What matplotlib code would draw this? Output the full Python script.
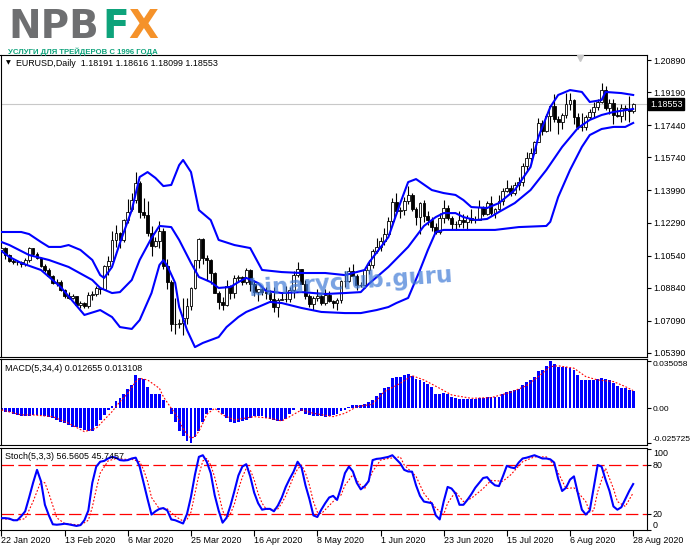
import matplotlib.pyplot as plt
import numpy as np
from matplotlib import font_manager

W, H = 691, 549

# ---------------- data ----------------
opens = [
    1.1083, 1.1093, 1.1056, 1.1025, 1.1020, 1.1019, 1.1009, 1.1031, 1.1093, 1.1060,
    1.1044, 1.1000, 1.0980, 1.0945, 1.0910, 1.0916, 1.0872, 1.0840, 1.0830, 1.0838,
    1.0792, 1.0805, 1.0785, 1.0847, 1.0852, 1.0881, 1.0880, 1.0998, 1.1027, 1.1137,
    1.1174, 1.1136, 1.1240, 1.1300, 1.1350, 1.1440, 1.1285, 1.1267, 1.1175, 1.1106,
    1.1130, 1.1183, 1.0997, 1.0914, 1.0690, 1.0692, 1.0700, 1.0722, 1.0790, 1.0885,
    1.1030, 1.1140, 1.1043, 1.1029, 1.0962, 1.0856, 1.0810, 1.0791, 1.0891, 1.0857,
    1.0935, 1.0940, 1.0915, 1.0978, 1.0905, 1.0863, 1.0877, 1.0863, 1.0855, 1.0823,
    1.0782, 1.0820, 1.0825, 1.0822, 1.0874, 1.0954, 1.0982, 1.0906, 1.0838, 1.0796,
    1.0830, 1.0840, 1.0805, 1.0848, 1.0815, 1.0802, 1.0819, 1.0919, 1.0922, 1.0975,
    1.0948, 1.0900, 1.0898, 1.0980, 1.1006, 1.1077, 1.1100, 1.1134, 1.1171, 1.1236,
    1.1339, 1.1288, 1.1294, 1.1341, 1.1374, 1.1300, 1.1256, 1.1332, 1.1263, 1.1243,
    1.1204, 1.1178, 1.1255, 1.1307, 1.1251, 1.1220, 1.1219, 1.1243, 1.1234, 1.1251,
    1.1240, 1.1245, 1.1310, 1.1275, 1.1331, 1.1282, 1.1300, 1.1343, 1.1398, 1.1411,
    1.1383, 1.1427, 1.1444, 1.1527, 1.1569, 1.1596, 1.1656, 1.1754, 1.1716, 1.1791,
    1.1846, 1.1778, 1.1761, 1.1800, 1.1856, 1.1876, 1.1787, 1.1736, 1.1737, 1.1785,
    1.1813, 1.1842, 1.1869, 1.1930, 1.1835, 1.1862, 1.1798, 1.1794, 1.1834, 1.1830,
    1.18191]
highs = [
    1.1100, 1.1097, 1.1064, 1.1036, 1.1027, 1.1024, 1.1039, 1.1097, 1.1096, 1.1073,
    1.1049, 1.1009, 1.0986, 1.0954, 1.0931, 1.0924, 1.0878, 1.0863, 1.0851, 1.0841,
    1.0814, 1.0811, 1.0863, 1.0869, 1.0892, 1.0890, 1.1005, 1.1054, 1.1186, 1.1214,
    1.1179, 1.1246, 1.1356, 1.1385, 1.1495, 1.1450, 1.1357, 1.1343, 1.1209, 1.1150,
    1.1237, 1.1200, 1.1035, 1.0926, 1.0832, 1.0720, 1.0828, 1.0828, 1.0887, 1.1033,
    1.1147, 1.1145, 1.1056, 1.1035, 1.0966, 1.0865, 1.0834, 1.0926, 1.0896, 1.0952,
    1.0953, 1.0948, 1.0990, 1.0983, 1.0925, 1.0880, 1.0890, 1.0889, 1.0874, 1.0888,
    1.0831, 1.0860, 1.0891, 1.0888, 1.0972, 1.1019, 1.0984, 1.0927, 1.0849, 1.0841,
    1.0876, 1.0850, 1.0876, 1.0868, 1.0817, 1.0830, 1.0927, 1.0975, 1.0995, 1.1008,
    1.0955, 1.0916, 1.0995, 1.1030, 1.1090, 1.1147, 1.1154, 1.1198, 1.1257, 1.1361,
    1.1384, 1.1312, 1.1362, 1.1422, 1.1387, 1.1310, 1.1339, 1.1348, 1.1290, 1.1258,
    1.1226, 1.1277, 1.1348, 1.1323, 1.1263, 1.1238, 1.1288, 1.1274, 1.1270, 1.1302,
    1.1262, 1.1346, 1.1317, 1.1343, 1.1371, 1.1305, 1.1375, 1.1413, 1.1452, 1.1430,
    1.1445, 1.1468, 1.1545, 1.1601, 1.1626, 1.1660, 1.1781, 1.1770, 1.1805, 1.1850,
    1.1908, 1.1795, 1.1806, 1.1916, 1.1916, 1.1882, 1.1806, 1.1806, 1.1798, 1.1832,
    1.1865, 1.1883, 1.1966, 1.1951, 1.1884, 1.1882, 1.1840, 1.1857, 1.1850, 1.1900,
    1.18616]
lows = [
    1.1077, 1.1036, 1.1019, 1.1010, 1.1005, 1.0992, 1.0999, 1.1020, 1.1051, 1.1037,
    1.0992, 1.0966, 1.0942, 1.0906, 1.0891, 1.0866, 1.0829, 1.0827, 1.0823, 1.0785,
    1.0779, 1.0778, 1.0779, 1.0821, 1.0838, 1.0850, 1.0876, 1.0951, 1.1023, 1.1097,
    1.1095, 1.1125, 1.1227, 1.1290, 1.1330, 1.1252, 1.1254, 1.1160, 1.1053, 1.1100,
    1.1094, 1.0983, 1.0878, 1.0654, 1.0637, 1.0670, 1.0636, 1.0690, 1.0766, 1.0878,
    1.0986, 1.1012, 1.0927, 1.0905, 1.0855, 1.0771, 1.0768, 1.0787, 1.0827, 1.0832,
    1.0920, 1.0896, 1.0905, 1.0865, 1.0840, 1.0812, 1.0846, 1.0827, 1.0812, 1.0757,
    1.0727, 1.0817, 1.0810, 1.0810, 1.0829, 1.0940, 1.0904, 1.0826, 1.0782, 1.0767,
    1.0814, 1.0792, 1.0795, 1.0806, 1.0775, 1.0766, 1.0805, 1.0888, 1.0915, 1.0945,
    1.0871, 1.0886, 1.0885, 1.0955, 1.0990, 1.1066, 1.1076, 1.1108, 1.1165, 1.1212,
    1.1272, 1.1251, 1.1270, 1.1327, 1.1290, 1.1218, 1.1167, 1.1230, 1.1218, 1.1185,
    1.1168, 1.1167, 1.1228, 1.1245, 1.1195, 1.1190, 1.1205, 1.1199, 1.1191, 1.1227,
    1.1226, 1.1240, 1.1261, 1.1269, 1.1268, 1.1254, 1.1296, 1.1320, 1.1392, 1.1371,
    1.1375, 1.1400, 1.1421, 1.1505, 1.1539, 1.1592, 1.1653, 1.1690, 1.1710, 1.1713,
    1.1762, 1.1696, 1.1723, 1.1780, 1.1822, 1.1753, 1.1722, 1.1711, 1.1718, 1.1776,
    1.1786, 1.1826, 1.1860, 1.1826, 1.1802, 1.1753, 1.1785, 1.1760, 1.1772, 1.1762,
    1.18099]
closes = [
    1.1093, 1.1056, 1.1025, 1.1020, 1.1019, 1.1009, 1.1031, 1.1093, 1.1060, 1.1044,
    1.1000, 1.0980, 1.0945, 1.0910, 1.0916, 1.0872, 1.0840, 1.0830, 1.0838, 1.0792,
    1.0805, 1.0785, 1.0847, 1.0852, 1.0881, 1.0880, 1.0998, 1.1027, 1.1137, 1.1174,
    1.1136, 1.1240, 1.1284, 1.1350, 1.1440, 1.1285, 1.1267, 1.1175, 1.1106, 1.1130,
    1.1183, 1.0997, 1.0914, 1.0690, 1.0692, 1.0700, 1.0722, 1.0790, 1.0885, 1.1030,
    1.1140, 1.1043, 1.1029, 1.0962, 1.0856, 1.0810, 1.0791, 1.0891, 1.0857, 1.0935,
    1.0940, 1.0915, 1.0978, 1.0905, 1.0863, 1.0877, 1.0863, 1.0855, 1.0823, 1.0782,
    1.0820, 1.0825, 1.0822, 1.0874, 1.0954, 1.0982, 1.0906, 1.0838, 1.0796, 1.0830,
    1.0840, 1.0805, 1.0848, 1.0815, 1.0802, 1.0819, 1.0919, 1.0922, 1.0975, 1.0948,
    1.0900, 1.0898, 1.0980, 1.1006, 1.1077, 1.1100, 1.1134, 1.1171, 1.1236, 1.1339,
    1.1288, 1.1294, 1.1341, 1.1374, 1.1300, 1.1256, 1.1332, 1.1263, 1.1243, 1.1204,
    1.1178, 1.1255, 1.1307, 1.1251, 1.1220, 1.1219, 1.1243, 1.1234, 1.1251, 1.1240,
    1.1245, 1.1310, 1.1275, 1.1331, 1.1282, 1.1300, 1.1343, 1.1398, 1.1411, 1.1383,
    1.1427, 1.1444, 1.1527, 1.1569, 1.1596, 1.1656, 1.1754, 1.1716, 1.1791, 1.1846,
    1.1778, 1.1761, 1.1800, 1.1856, 1.1876, 1.1787, 1.1736, 1.1737, 1.1785, 1.1813,
    1.1842, 1.1869, 1.1930, 1.1835, 1.1862, 1.1798, 1.1794, 1.1834, 1.1830, 1.1820,
    1.18553]

# Bollinger bands (bar index, price)
bb_up_x = [0, 5, 7, 10, 12, 15, 17, 20, 23, 25, 26, 28, 30, 33, 35, 37, 39, 41, 43, 45,
           46, 48, 50, 53, 55, 59, 63, 66, 71, 76, 82, 87, 92, 93, 98, 101, 103, 105, 109,
           112, 115, 117, 119, 123, 126, 130, 134, 136, 139, 141, 144, 147, 149, 152, 153,
           157, 160]
bb_up = [1.1179, 1.1179, 1.1168, 1.1126, 1.1100, 1.1100, 1.1110, 1.1084, 1.1031, 1.0951,
         1.0936, 1.0994, 1.1121, 1.1295, 1.1470, 1.1496, 1.1465, 1.1422, 1.1428, 1.1533,
         1.1560, 1.1496, 1.1295, 1.1242, 1.1137, 1.1110, 1.1094, 1.0978, 1.0967, 1.0962,
         1.0962, 1.0951, 1.0978, 1.1015, 1.1152, 1.1332, 1.1443, 1.1459, 1.1401, 1.1385,
         1.1375, 1.1348, 1.1311, 1.1306, 1.1332, 1.1401, 1.1523, 1.1682, 1.1840, 1.1904,
         1.1930, 1.1920, 1.1867, 1.1877, 1.1920, 1.1914, 1.1904]
bb_mid_x = [0, 2, 7, 12, 17, 23, 25, 28, 30, 33, 35, 38, 40, 43, 45, 48, 50, 53, 55, 58,
            60, 62, 65, 67, 71, 76, 82, 87, 91, 93, 98, 103, 107, 110, 112, 115, 117, 120,
            123, 126, 130, 134, 138, 142, 146, 149, 152, 155, 160]
bb_mid = [1.1126, 1.1110, 1.1057, 1.1031, 1.0994, 1.0925, 1.0883, 1.0856, 1.0861, 1.0925,
          1.1031, 1.1147, 1.1211, 1.1205, 1.1137, 1.1015, 1.0941, 1.0914, 1.0883, 1.0888,
          1.0914, 1.0936, 1.0909, 1.0867, 1.0856, 1.0861, 1.0851, 1.0856, 1.0861, 1.0904,
          1.0994, 1.1100, 1.1211, 1.1258, 1.1279, 1.1279, 1.1258, 1.1242, 1.1248, 1.1285,
          1.1332, 1.1401, 1.1507, 1.1629, 1.1729, 1.1772, 1.1798, 1.1814, 1.1830]
bb_low_x = [0, 2, 5, 10, 15, 21, 25, 28, 30, 33, 35, 38, 40, 41, 42, 44, 45, 47, 49, 51,
            55, 57, 60, 62, 65, 68, 71, 76, 81, 87, 91, 95, 98, 100, 103, 106, 108, 110,
            112, 117, 125, 131, 138, 139, 141, 144, 147, 149, 152, 155, 158, 160]
bb_low = [1.1078, 1.1047, 1.1015, 1.0978, 1.0888, 1.0740, 1.0766, 1.0729, 1.0676, 1.0666,
          1.0713, 1.0856, 1.1004, 1.1030, 1.1000, 1.0909, 1.0782, 1.0660, 1.0570, 1.0592,
          1.0623, 1.0676, 1.0729, 1.0756, 1.0782, 1.0809, 1.0803, 1.0777, 1.0756, 1.0750,
          1.0750, 1.0766, 1.0782, 1.0803, 1.0830, 1.0978, 1.1084, 1.1179, 1.1190, 1.1190,
          1.1190, 1.1205, 1.1211, 1.1233, 1.1364, 1.1507, 1.1629, 1.1692, 1.1724, 1.1735,
          1.1735, 1.1756]

# MACD(5,34,4) histogram, in thousandths
macd_main = [
    -1.2, -2.5, -3.0, -4.0, -4.9, -5.5, -5.7, -5.7, -5.2, -4.9,
    -4.9, -5.5, -6.2, -7.5, -8.6, -10.0, -11.1, -12.4, -13.6, -14.2,
    -14.8, -15.8, -17.0, -16.5, -13.0, -9.0, -5.0, -1.5, 2.0, 5.5,
    8.0, 10.5, 14.0, 17.5, 24.7, 22.5, 21.5, 16.0, 10.5, 10.8,
    10.4, 6.0, 0.5, -4.0, -10.0, -16.5, -20.5, -24.5, -25.7, -21.0,
    -16.5, -10.0, -4.0, -1.0, 0.5, -1.5, -4.0, -7.5, -10.0, -11.1,
    -10.5, -9.5, -8.5, -7.5, -6.0, -5.7, -6.0, -7.0, -7.8, -8.5,
    -9.3, -9.4, -8.0, -4.5, -1.0, 0.5, -2.0, -4.5, -5.0, -5.5,
    -5.7, -6.0, -6.2, -5.5, -5.0, -4.0, -2.0, -1.2, 1.0, 2.5,
    2.5, 2.8, 3.0, 4.5, 6.2, 9.0, 11.1, 14.8, 16.1, 22.7,
    23.0, 23.5, 24.5, 25.5, 24.0, 22.0, 21.0, 19.8, 18.0, 16.1,
    10.4, 10.8, 11.1, 10.4, 8.6, 7.4, 7.0, 6.7, 6.7, 6.7,
    7.0, 7.4, 8.0, 8.2, 8.2, 8.2, 8.5, 10.5, 12.4, 12.8,
    13.5, 14.1, 17.3, 19.5, 21.0, 23.5, 27.9, 28.4, 31.0, 35.058,
    32.5, 30.9, 30.6, 30.4, 30.1, 28.4, 24.7, 21.0, 21.0, 21.0,
    21.0, 21.5, 22.7, 21.5, 21.0, 18.5, 16.5, 14.8, 14.8, 13.6,
    12.655]
macd_sig_x = [0, 5, 8, 13, 17, 21, 24, 26, 28, 30, 32, 34, 35, 37, 40, 41, 43, 44, 45, 46,
              47, 48, 49, 50, 51, 52, 54, 56, 59, 64, 68, 71, 73, 76, 79, 84, 87, 90, 94,
              97, 101, 104, 107, 111, 114, 119, 124, 129, 133, 136, 139, 141, 145, 148,
              151, 155, 158, 160]
macd_sig = [-1.2, -4.9, -4.9, -6.2, -11.1, -17.3, -14.8, -8.6, -2.5, 4.9, 11.1, 19.8,
            22.2, 21.0, 14.8, 8.6, 0.0, -4.0, -9.0, -15.0, -19.5, -22.2, -21.0, -17.0,
            -11.1, -4.5, 0.0, -4.9, -8.6, -6.2, -7.4, -9.4, -6.2, -1.2, -3.7, -6.2, -3.7,
            1.2, 3.0, 12.4, 18.5, 24.2, 21.0, 14.8, 9.9, 7.4, 7.9, 11.9, 16.8, 23.5, 30.9,
            31.5, 29.7, 23.5, 21.0, 19.8, 16.1, 13.108]

# Stochastic(5,3,3)
stoch_main = [
    14.6, 14.6, 14, 12, 12, 17, 23, 40, 58, 74,
    60, 31, 18, 7, 6.5, 7, 7.7, 7, 6, 5,
    6, 12, 24, 58, 78, 84, 85, 88, 90, 89,
    86, 85.5, 86, 88, 89, 78, 58, 38, 19, 23,
    26, 27, 24, 13, 12, 10, 8, 20, 41, 68,
    90, 92, 84, 70, 43, 24, 9, 15, 30, 48,
    67, 78, 81, 66, 46, 33, 25, 26, 26, 23,
    30, 40, 53, 63, 72, 84, 77, 55, 38, 18,
    16, 25, 33, 40, 42, 37, 52, 70, 78, 72,
    58, 50, 54, 60, 86, 87.5, 88, 89, 90, 92,
    87, 82, 74, 72, 71.8, 55, 42, 35, 34, 33,
    18, 13, 35, 53, 51, 45, 31, 31, 37, 44,
    52, 58, 64, 65, 59, 55, 54, 66, 79, 77,
    76, 83, 88, 89, 90.5, 92, 90, 88, 88, 87,
    83, 63, 48, 52, 62, 66, 45, 25, 19, 24,
    52, 80, 78, 62, 48, 29, 25, 28, 38, 48,
    56.5605]
stoch_sig_x = [0, 2, 4, 6, 8, 10, 11, 12, 14, 16, 18, 20, 22, 23, 24, 25, 27, 29, 31, 33,
               35, 36, 37, 38, 40, 42, 44, 46, 47, 48, 49, 50, 51, 52, 53, 54, 55, 56, 57,
               58, 59, 60, 61, 62, 63, 64, 65, 66, 67, 68, 70, 71, 72, 73, 74, 75, 76, 77,
               78, 79, 80, 81, 82, 84, 85, 86, 87, 89, 91, 92, 94, 96, 98, 101, 102, 105,
               107, 110, 112, 113, 115, 117, 119, 122, 124, 127, 129, 132, 135, 138, 140,
               143, 145, 148, 149, 150, 151, 153, 155, 156, 158, 160]
stoch_sig = [14, 13, 12, 14, 35, 60, 58, 45, 15, 8, 7, 6, 12, 28, 50, 70, 85, 88, 87, 87,
             84, 74, 60, 40, 26, 26, 17, 11, 13, 22, 45, 68, 85, 88, 80, 65, 45, 24, 14,
             20, 32, 50, 65, 76, 74, 62, 45, 33, 26, 25, 26, 33, 42, 54, 66, 75, 80, 70,
             55, 35, 22, 20, 25, 35, 40, 43, 55, 68, 55, 51, 72, 86, 88, 90, 80, 66,
             45, 27, 19, 33, 47, 35, 39, 51, 61, 60, 68, 84, 90, 90, 80,
             51, 52, 35, 22, 24, 47, 76, 51, 35, 29, 45.7457]

date_idx = [0, 16, 32, 48, 64, 80, 96, 112, 128, 144, 160]
date_labels = ["22 Jan 2020", "13 Feb 2020", "6 Mar 2020", "25 Mar 2020", "16 Apr 2020",
               "8 May 2020", "1 Jun 2020", "23 Jun 2020", "15 Jul 2020", "6 Aug 2020",
               "28 Aug 2020"]
price_ticks = [1.20890, 1.19190, 1.17440, 1.15740, 1.13990, 1.12290, 1.10540, 1.08840,
               1.07090, 1.05390]
last_price = 1.18553

# ---------------- figure ----------------
plt.rcParams["font.family"] = ["Liberation Sans", "DejaVu Sans"]
LBL = 6.4

fig = plt.figure(figsize=(W / 100, H / 100), dpi=100)
fig.patch.set_facecolor("white")


def px_axes(left, top, right, bottom):
    return fig.add_axes([left / W, 1 - bottom / H, (right - left) / W, (bottom - top) / H])


ax = px_axes(0.5, 55, 647, 357)
ax_m = px_axes(0.5, 359, 647, 445)
ax_s = px_axes(0.5, 448, 647, 530)

idx = np.arange(len(closes))
o, h, l, c = map(np.array, (opens, highs, lows, closes))
up = c >= o
xlim = (-0.25, 163.5)

for a in (ax, ax_m, ax_s):
    a.set_xlim(*xlim)
    for s in a.spines.values():
        s.set_linewidth(0.8)
        s.set_color("black")
    a.yaxis.tick_right()
    a.tick_params(axis="y", length=3, width=0.8, pad=1.3, labelsize=LBL, colors="black")

# main chart
ax.axhline(last_price, color="#c8c8c8", lw=0.8, zorder=1)
ax.vlines(idx, l, h, color="black", lw=0.8, zorder=3)
ax.bar(idx[up], c[up] - o[up], bottom=o[up], width=0.72, color="white",
       edgecolor="black", lw=0.6, zorder=4)
ax.bar(idx[~up], o[~up] - c[~up], bottom=c[~up], width=0.72, color="black",
       edgecolor="black", lw=0.6, zorder=4)
for bx, by in ((bb_up_x, bb_up), (bb_mid_x, bb_mid), (bb_low_x, bb_low)):
    ax.plot(bx, by, color="#0000ff", lw=1.5, zorder=5)
ax.set_ylim(1.05176, 1.21155)
ax.set_xticks([])
ax.set_yticks(price_ticks)
ax.set_yticklabels([f"{v:.5f}" for v in price_ticks])
ax.annotate(f"{last_price:.5f}", xy=(1, last_price), xycoords=("axes fraction", "data"),
            xytext=(2.2, 0), textcoords="offset points", ha="left", va="center",
            fontsize=LBL, color="white", annotation_clip=False,
            bbox=dict(boxstyle="square,pad=0.2", facecolor="black", edgecolor="black"))
ax.plot([580 / 647], [0.99], marker="v", ms=5, color="#c8c8c8", transform=ax.transAxes,
        clip_on=False, zorder=6)
ax.annotate("\u25bc", xy=(0, 1), xycoords="axes fraction", xytext=(5.5, -5.8),
            textcoords="offset points", ha="center", va="center", fontsize=4.5,
            family="DejaVu Sans")
ax.annotate("EURUSD,Daily  1.18191 1.18616 1.18099 1.18553", xy=(0, 1),
            xycoords="axes fraction", xytext=(11.5, -5.8), textcoords="offset points",
            ha="left", va="center", fontsize=LBL)

# MACD
macd_vals = np.array(macd_main) / 1000
ax_m.bar(idx, macd_vals, width=0.72, color="#0000ff", lw=0, zorder=2)
ax_m.plot(macd_sig_x, np.array(macd_sig) / 1000, color="red", lw=0.8,
          ls=(0, (1.6, 1.6)), zorder=3)
ax_m.set_ylim(-0.02721, 0.03654)
ax_m.set_xticks([])
ax_m.set_yticks([0.035058, 0.0, -0.025725])
ax_m.set_yticklabels(["0.035058", "0.00", "-0.025725"])
ax_m.tick_params(axis="y", labelsize=6.0, pad=1.0)
mlabs = ax_m.get_yticklabels()
mlabs[0].set_va("top")
mlabs[2].set_va("bottom")
ax_m.annotate("MACD(5,34,4) 0.012655 0.013108", xy=(0, 1), xycoords="axes fraction",
              xytext=(3.5, -6.5), textcoords="offset points", ha="left", va="center",
              fontsize=LBL)

# Stochastic
for lvl in (80, 20):
    ax_s.axhline(lvl, color="red", lw=0.9, ls=(0, (10, 3.5)), zorder=1)
ax_s.plot(idx, stoch_main, color="#0000ff", lw=1.5, zorder=3)
ax_s.plot(stoch_sig_x, stoch_sig, color="red", lw=0.8, ls=(0, (1.6, 1.6)), zorder=2)
ax_s.set_ylim(0.3, 100.9)
ax_s.set_yticks([100, 80, 20, 0])
ax_s.set_yticklabels(["100", "80", "20", "0"])
slabs = ax_s.get_yticklabels()
slabs[0].set_va("top")
slabs[3].set_va("bottom")
ax_s.set_xticks(date_idx)
ax_s.set_xticklabels(date_labels, ha="left")
ax_s.tick_params(axis="x", length=4, width=0.8, pad=0.3, labelsize=LBL, colors="black")
ax_s.annotate("Stoch(5,3,3) 56.5605 45.7457", xy=(0, 1), xycoords="axes fraction",
              xytext=(3.5, -6.0), textcoords="offset points", ha="left", va="center",
              fontsize=LBL)

# logo
fig.text(8 / W, 1 - 38 / H, "NPB", fontsize=28, fontweight="bold", color="#6e6f71",
         family="DejaVu Sans", va="baseline")
fig.text(102 / W, 1 - 38 / H, "F", fontsize=28, fontweight="bold", color="#0ea37b",
         family="DejaVu Sans", va="baseline")
fig.text(128 / W, 1 - 38 / H, "X", fontsize=28, fontweight="bold", color="#f5922a",
         family="DejaVu Sans", va="baseline")
narrow = any(f.name == "Liberation Sans Narrow" for f in font_manager.fontManager.ttflist)
fig.text(8 / W, 1 - 54.5 / H, "УСЛУГИ ДЛЯ ТРЕЙДЕРОВ С 1996 ГОДА",
         fontsize=6.8 if narrow else 5.6, fontweight="bold", color="#0ea37b",
         family="Liberation Sans Narrow" if narrow else "Liberation Sans", va="baseline")

# watermark
fig.text(350 / W, 1 - 282 / H, "binaryclub.guru", fontsize=16.5, fontweight="bold",
         family="DejaVu Sans", color="#3f7ad6", alpha=0.7, rotation=4,
         rotation_mode="anchor", ha="center", va="center")

fig.savefig("out.png", dpi=100)
